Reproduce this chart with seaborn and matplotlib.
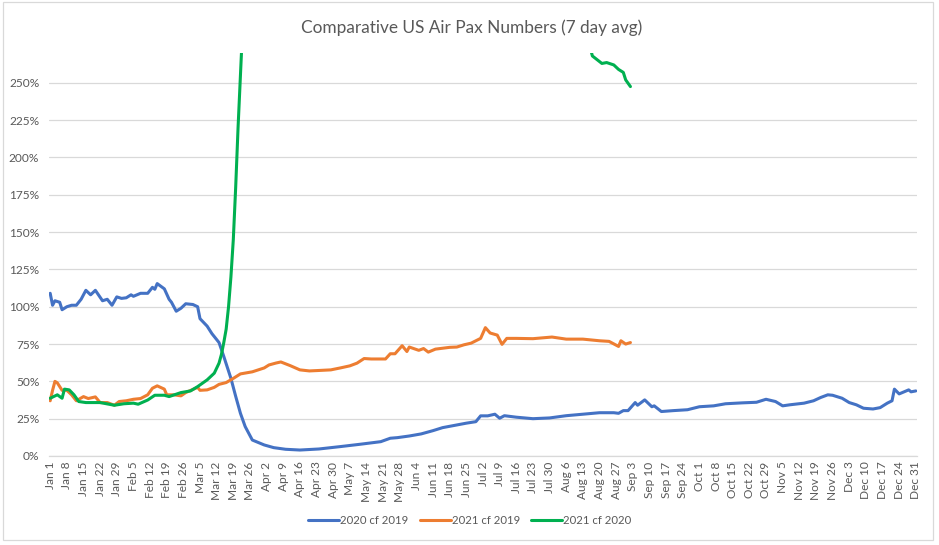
import matplotlib
matplotlib.use("Agg")
import matplotlib.pyplot as plt
from matplotlib.patches import Rectangle
from matplotlib.ticker import PercentFormatter
import seaborn as sns
import pandas as pd

# day index (0 = Jan 1) and ratio values
blue_day = [0, 1, 2, 4, 5, 7, 9, 11, 13, 15, 17, 19, 22, 24, 26, 28, 30, 32, 34, 35,
            38, 41, 43, 44, 45, 48, 50, 51, 53, 55, 57, 60, 62, 63, 66, 68, 71, 73, 76, 78,
            80, 82, 85, 90, 94, 99, 105, 113, 122, 130, 139, 143, 146, 151, 156, 161, 165, 171, 175, 179,
            181, 184, 187, 189, 191, 196, 203, 210, 217, 224, 231, 237, 239, 241, 243, 246, 247, 250, 253, 254,
            257, 262, 268, 273, 279, 284, 291, 297, 301, 305, 308, 311, 317, 321, 324, 327, 329, 333, 336, 339,
            342, 346, 349, 352, 354, 355, 357, 361, 362, 364]
blue_val = [1.09, 1.01, 1.04, 1.03, 0.98, 1.00, 1.01, 1.01, 1.05, 1.11, 1.08, 1.11, 1.04, 1.05, 1.01, 1.066, 1.056, 1.06, 1.08, 1.07,
            1.09, 1.09, 1.13, 1.117, 1.155, 1.12, 1.05, 1.03, 0.97, 0.99, 1.02, 1.015, 1.00, 0.92, 0.87, 0.82, 0.76, 0.667, 0.52, 0.40,
            0.286, 0.197, 0.107, 0.074, 0.056, 0.045, 0.04, 0.047, 0.063, 0.078, 0.096, 0.119, 0.123, 0.134, 0.148, 0.17, 0.19, 0.208, 0.22, 0.23,
            0.269, 0.269, 0.28, 0.253, 0.27, 0.26, 0.25, 0.255, 0.27, 0.28, 0.29, 0.29, 0.286, 0.304, 0.304, 0.358, 0.34, 0.376, 0.33, 0.336,
            0.298, 0.304, 0.31, 0.33, 0.336, 0.35, 0.356, 0.36, 0.38, 0.365, 0.336, 0.343, 0.354, 0.37, 0.392, 0.41, 0.407, 0.387, 0.358, 0.343,
            0.32, 0.315, 0.324, 0.354, 0.37, 0.448, 0.416, 0.443, 0.43, 0.436]

orange_day = [0, 1, 2, 3, 5, 7, 9, 11, 14, 16, 19, 21, 24, 27, 29, 32, 35, 38, 41, 43,
              45, 48, 49, 52, 55, 57, 59, 62, 63, 66, 69, 71, 74, 77, 80, 85, 90, 92, 95, 97,
              101, 105, 109, 113, 118, 122, 126, 129, 132, 135, 141, 143, 145, 148, 150, 151, 155, 157, 159, 162,
              168, 171, 174, 177, 181, 183, 185, 188, 190, 192, 196, 203, 211, 217, 224, 231, 235, 239, 240, 242,
              244]
orange_val = [0.37, 0.44, 0.50, 0.49, 0.44, 0.44, 0.41, 0.37, 0.398, 0.385, 0.396, 0.358, 0.358, 0.34, 0.365, 0.37, 0.38, 0.385, 0.41, 0.454,
              0.47, 0.448, 0.41, 0.41, 0.403, 0.425, 0.439, 0.46, 0.44, 0.443, 0.46, 0.48, 0.492, 0.52, 0.55, 0.564, 0.59, 0.61, 0.623, 0.63,
              0.605, 0.577, 0.57, 0.573, 0.577, 0.59, 0.604, 0.622, 0.653, 0.65, 0.65, 0.685, 0.685, 0.739, 0.70, 0.73, 0.708, 0.72, 0.696, 0.716,
              0.728, 0.73, 0.745, 0.756, 0.788, 0.86, 0.824, 0.81, 0.748, 0.788, 0.788, 0.786, 0.797, 0.783, 0.783, 0.772, 0.768, 0.734, 0.772, 0.75,
              0.76]

# the middle part of this series runs above the top of the axis (estimated)
green_day = [0, 3, 5, 6, 8, 10, 12, 15, 21, 27, 31, 35, 37, 41, 44, 48, 50, 55, 59, 62,
             66, 69, 71, 72, 73, 74, 75, 76, 77, 78, 79, 80, 81, 90, 105, 130, 160, 190, 215, 226,
             228, 232, 234, 237, 239, 241, 242, 244]
green_val = [0.387, 0.41, 0.387, 0.448, 0.443, 0.41, 0.365, 0.358, 0.358, 0.34, 0.35, 0.354, 0.347, 0.375, 0.407, 0.407, 0.398, 0.425, 0.436, 0.465,
             0.51, 0.555, 0.622, 0.68, 0.76, 0.85, 1.00, 1.20, 1.45, 1.80, 2.20, 2.55, 2.90, 7.0, 12.0, 9.0, 6.0, 4.2, 3.2, 2.80,
             2.68, 2.63, 2.636, 2.62, 2.59, 2.57, 2.52, 2.475]

series_names = ["2020 cf 2019", "2021 cf 2019", "2021 cf 2020"]
series_colors = ["#4472C4", "#ED7D31", "#00B050"]

tick_dates = pd.date_range("2021-01-01", "2021-12-31", freq="7D")
tick_labels = [d.strftime("%b ") + str(d.day) for d in tick_dates]
tick_pos = [(d - tick_dates[0]).days for d in tick_dates]

df = pd.concat([
    pd.DataFrame({"day": blue_day, "value": blue_val, "series": series_names[0]}),
    pd.DataFrame({"day": orange_day, "value": orange_val, "series": series_names[1]}),
    pd.DataFrame({"day": green_day, "value": green_val, "series": series_names[2]}),
])

sns.set_theme(style="white")
plt.rcParams["font.family"] = ["Lato", "DejaVu Sans"]
grey = "#595959"

fig = plt.figure(figsize=(9.39, 5.45), dpi=100)
ax = fig.add_axes([49 / 939, 89 / 545, 868 / 939, 403 / 545])

sns.lineplot(data=df, x="day", y="value", hue="series", palette=series_colors,
             estimator=None, linewidth=2.2, ax=ax, legend=True)

ax.set_xlim(-0.5, 364.5)
ax.set_ylim(0, 2.70)
ax.set_yticks([i * 0.25 for i in range(11)])
ax.yaxis.set_major_formatter(PercentFormatter(1, decimals=0))
ax.set_xticks(tick_pos)
ax.set_xticklabels(tick_labels, rotation=90)
ax.tick_params(axis="both", length=0, labelsize=8.6, labelcolor=grey)
ax.tick_params(axis="x", pad=4)
ax.tick_params(axis="y", pad=7)
ax.set_xlabel("")
ax.set_ylabel("")
ax.grid(axis="y", color="#D9D9D9", linewidth=0.9)
ax.set_axisbelow(True)
for s in ["top", "left", "right"]:
    ax.spines[s].set_visible(False)
ax.spines["bottom"].set_color("#D9D9D9")
ax.spines["bottom"].set_linewidth(0.9)

handles, labels = ax.get_legend_handles_labels()
ax.get_legend().remove()
fig.legend(handles, labels, loc="center", bbox_to_anchor=(470 / 939, 1 - 520 / 545),
           ncol=3, frameon=False, fontsize=8.2, labelcolor=grey,
           handlelength=2.7, handletextpad=0.1, columnspacing=1.0)

fig.text(472 / 939, 1 - 28 / 545, "Comparative US Air Pax Numbers (7 day avg)",
         ha="center", va="center", fontsize=12.4, color=grey)

fig.patches.append(Rectangle((3 / 939, 5 / 545), 930 / 939, 538 / 545,
                             transform=fig.transFigure, fill=False,
                             edgecolor="#D9D9D9", linewidth=0.9))

fig.savefig("out.png", dpi=100)
